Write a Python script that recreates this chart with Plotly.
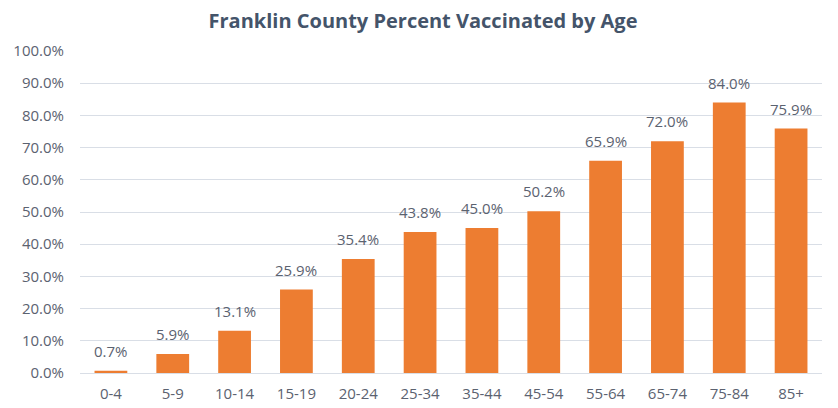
import plotly.graph_objects as go

categories = ["0-4", "5-9", "10-14", "15-19", "20-24", "25-34", "35-44", "45-54", "55-64", "65-74", "75-84", "85+"]
percent_vaccinated = [0.7, 5.9, 13.1, 25.9, 35.4, 43.8, 45.0, 50.2, 65.9, 72.0, 84.0, 75.9]
y_ticks = [0, 10, 20, 30, 40, 50, 60, 70, 80, 90, 100]
y_tick_labels = [f"{v:.1f}%" for v in y_ticks]

FONT = "Open Sans"
TXT = "#5B6270"

fig = go.Figure(go.Bar(
    x=categories,
    y=percent_vaccinated,
    marker=dict(color="#ED7D31", line=dict(width=0)),
    hoverinfo="x+y",
))

for c, v in zip(categories, percent_vaccinated):
    fig.add_annotation(x=c, y=v, text=f"{v:.1f}%", showarrow=False,
                       yanchor="bottom", yshift=8,
                       font=dict(size=15, color=TXT, family=FONT))

fig.update_layout(
    width=830, height=400,
    margin=dict(l=72, r=16, t=43, b=35, autoexpand=False),
    paper_bgcolor="white", plot_bgcolor="white",
    bargap=0.47,
    title=dict(text="<b>Franklin County Percent Vaccinated by Age</b>", x=0.5, xanchor="center",
               y=0.9675, yanchor="middle", yref="container",
               font=dict(size=20, color="#44546A", family=FONT)),
    font=dict(family=FONT, color=TXT, size=15),
    showlegend=False,
)
fig.update_yaxes(range=[0, 100], tickvals=y_ticks, ticktext=y_tick_labels,
                 showgrid=True, gridcolor="#D9DEE6", gridwidth=1, zeroline=False,
                 showline=False, ticks="", ticklabelstandoff=15, automargin=False,
                 tickfont=dict(size=15, color=TXT, family=FONT))
fig.update_xaxes(showline=True, linecolor="#D9DEE6", linewidth=1, ticks="", automargin=False,
                 tickfont=dict(size=15, color=TXT, family=FONT), ticklabelstandoff=7)

fig.write_html("out.html")
